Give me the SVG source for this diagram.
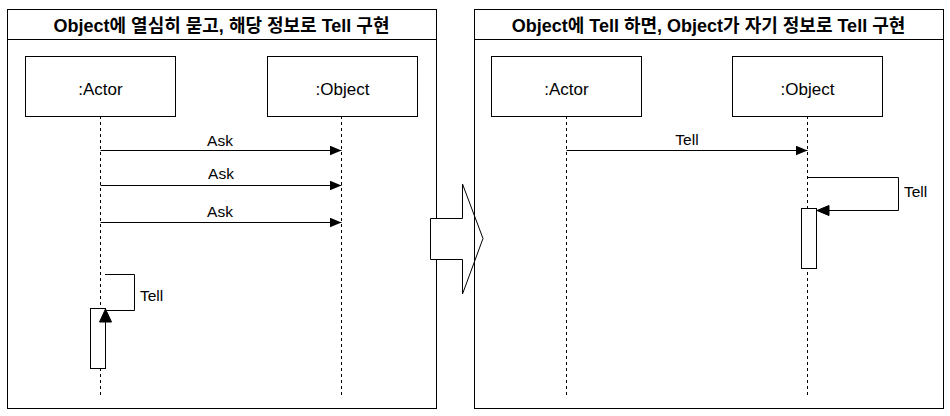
<svg xmlns="http://www.w3.org/2000/svg" width="950" height="416" viewBox="0 0 950 416">
<style>
.frame{fill:#fff;stroke:#000;stroke-width:1}
.box{fill:#fff;stroke:#000;stroke-width:1}
.life{fill:none;stroke:#000;stroke-width:1;stroke-dasharray:3 3}
.msg{fill:none;stroke:#000;stroke-width:1}
.head{fill:#000;stroke:#000;stroke-width:1}
.title{font-family:"Liberation Sans","Noto Sans CJK KR",sans-serif;font-weight:bold;font-size:18px;fill:#000;text-anchor:middle}
.name{font-family:"Liberation Sans","Noto Sans CJK KR",sans-serif;font-size:17px;fill:#000;text-anchor:middle}
.lbl{font-family:"Liberation Sans","Noto Sans CJK KR",sans-serif;font-size:15.5px;fill:#000}
</style>
<defs>
<marker id="arr" viewBox="0 0 12 10" refX="12" refY="5" markerWidth="12" markerHeight="10" markerUnits="userSpaceOnUse" orient="auto">
<path d="M0,0 L12,5 L0,10 Z" fill="#000"/>
</marker>
</defs>

<g id="frame-left">
<rect class="frame" x="7.5" y="9.5" width="429" height="399"/>
<line class="msg" x1="7.5" y1="39.5" x2="436.5" y2="39.5"/>
<text class="title" x="221.5" y="31.5">Object에 열심히 묻고, 해당 정보로 Tell 구현</text>
</g>

<g id="big-arrow">
<polygon points="430.5,218.5 462.5,218.5 462.5,184 483,238.5 462.5,294 462.5,259.5 430.5,259.5" fill="#fff" stroke="#000" stroke-width="1"/>
</g>

<g id="frame-right">
<rect x="474.5" y="9.5" width="469" height="399" fill="none" stroke="#000"/>
<line class="msg" x1="474.5" y1="39.5" x2="943.5" y2="39.5"/>
<text class="title" x="708.5" y="31.5">Object에 Tell 하면, Object가 자기 정보로 Tell 구현</text>
</g>

<g id="connectors">
<line class="life" x1="100.5" y1="116" x2="100.5" y2="397"/>
<line class="life" x1="341.5" y1="116" x2="341.5" y2="397"/>
<line class="life" x1="566.5" y1="116" x2="566.5" y2="397"/>
<line class="life" x1="807.5" y1="116" x2="807.5" y2="397"/>
<line class="msg" x1="100.5" y1="150.5" x2="341.5" y2="150.5" marker-end="url(#arr)"/>
<line class="msg" x1="100.5" y1="185.5" x2="341.5" y2="185.5" marker-end="url(#arr)"/>
<line class="msg" x1="100.5" y1="222.5" x2="341.5" y2="222.5" marker-end="url(#arr)"/>
<line class="msg" x1="566.5" y1="150.5" x2="807.5" y2="150.5" marker-end="url(#arr)"/>
<path class="msg" d="M808,177.5 H898.5 V210.5 H817" marker-end="url(#arr)"/>
<path class="msg" d="M105,274.5 H134.5 V310.5 H105.5"/>
<text class="lbl" x="220" y="145.5" text-anchor="middle">Ask</text>
<text class="lbl" x="221" y="179" text-anchor="middle">Ask</text>
<text class="lbl" x="220" y="216.5" text-anchor="middle">Ask</text>
<text class="lbl" x="140" y="300.5">Tell</text>
<text class="lbl" x="687" y="145" text-anchor="middle">Tell</text>
<text class="lbl" x="904" y="197">Tell</text>
</g>

<g id="actor-left">
<rect class="box" x="25.5" y="56.5" width="150" height="60"/>
<text class="name" x="100.5" y="95">:Actor</text>
</g>
<g id="object-left">
<rect class="box" x="267.5" y="56.5" width="150" height="60"/>
<text class="name" x="342.5" y="95">:Object</text>
</g>
<g id="actor-right">
<rect class="box" x="491.5" y="56.5" width="150" height="60"/>
<text class="name" x="566.5" y="95">:Actor</text>
</g>
<g id="object-right">
<rect class="box" x="732.5" y="56.5" width="150" height="60"/>
<text class="name" x="807.5" y="95">:Object</text>
</g>

<g id="activation-left">
<rect class="box" x="90.5" y="308.5" width="15" height="60"/>
<polygon class="head" points="105.5,309 99.5,322 111.5,322"/>
</g>
<g id="activation-right">
<rect class="box" x="801.5" y="208.5" width="15" height="60"/>
<polygon class="head" points="817,210.5 829,205.5 829,215.5"/>
</g>
</svg>
